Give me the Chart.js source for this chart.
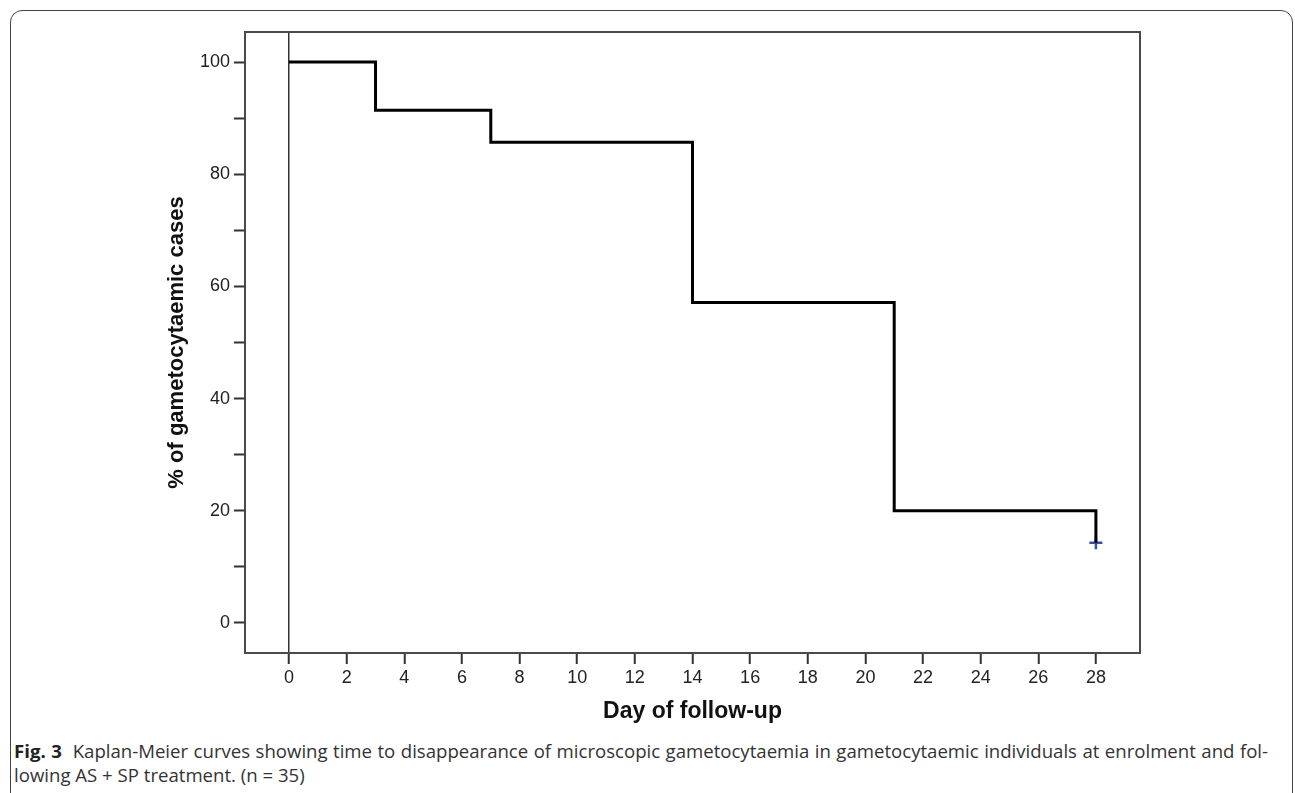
<!DOCTYPE html>
<html>
<head>
<meta charset="utf-8">
<script src="https://cdn.jsdelivr.net/npm/chart.js@4"></script>
<style>
  body { margin: 0; background: #fff; width: 1295px; height: 793px; overflow: hidden; position: relative; }
  #frame {
    position: absolute; left: 10px; top: 10px; width: 1281px; height: 900px;
    border: 1.5px solid #444; border-radius: 12px;
  }
  #km { position: absolute; left: 0; top: 0; }
  #caption {
    position: absolute; left: 14px; top: 739px; width: 1254px;
    font-family: "Open Sans", "Noto Sans", sans-serif; font-size: 18.6px; line-height: 24px; color: #333;
  }
  #caption .l1 { text-align: justify; text-align-last: justify; white-space: nowrap; }
  #caption b { color: #222; }
</style>
</head>
<body>
<div id="frame"></div>
<canvas id="km" width="1295" height="730"></canvas>
<div id="caption">
  <div class="l1"><b>Fig. 3</b>&nbsp; Kaplan-Meier curves showing time to disappearance of microscopic gametocytaemia in gametocytaemic individuals at enrolment and fol-</div>
  <div>lowing AS + SP treatment. (n = 35)</div>
</div>
<script>
// 生存曲線のデータ（日数と割合）
const days = [0, 3, 7, 14, 21, 28];
const survival = [100, 91.43, 85.71, 57.14, 20, 14.29];
// 打ち切り
const censoredDays = [28];
const censoredValues = [14.29];
// 目盛り
const xTickValues = [0, 2, 4, 6, 8, 10, 12, 14, 16, 18, 20, 22, 24, 26, 28];
const yTickValues = [0, 10, 20, 30, 40, 50, 60, 70, 80, 90, 100];
const yLabelValues = [0, 20, 40, 60, 80, 100];

const tickFont = { family: 'Arial, "Liberation Sans", sans-serif', size: 18 };
const xTitleFont = { family: 'Arial, "Liberation Sans", sans-serif', size: 23, weight: "bold" };
const yTitleFont = { family: 'Arial, "Liberation Sans", sans-serif', size: 22, weight: "bold" };

// 枠線を描くプラグイン
const plotBox = {
  id: "plotBox",
  beforeDatasetsDraw(chart) {
    const { ctx, chartArea: a } = chart;
    ctx.save();
    ctx.strokeStyle = "#4a4a4a";
    ctx.lineWidth = 2;
    ctx.strokeRect(a.left, a.top, a.right - a.left, a.bottom - a.top);
    ctx.restore();
  },
};

new Chart(document.getElementById("km"), {
  type: "line",
  data: {
    datasets: [
      {
        data: days.map((d, i) => ({ x: d, y: survival[i] })),
        stepped: "before",
        borderColor: "#000",
        borderWidth: 3,
        pointRadius: 0,
        fill: false,
      },
      {
        data: censoredDays.map((d, i) => ({ x: d, y: censoredValues[i] })),
        showLine: false,
        pointStyle: "cross",
        pointRadius: 6.5,
        borderColor: "#3b4ea0",
        borderWidth: 2.5,
      },
    ],
  },
  options: {
    responsive: false,
    animation: false,
    layout: { padding: { left: 164, top: 32, right: 155, bottom: 5 } },
    plugins: { legend: { display: false }, tooltip: { enabled: false } },
    scales: {
      x: {
        type: "linear",
        min: -1.53,
        max: 29.53,
        afterBuildTicks: (s) => { s.ticks = xTickValues.map((v) => ({ value: v })); },
        afterFit: (s) => { s.height = 72; },
        border: { display: false },
        grid: {
          drawOnChartArea: true,
          color: (c) => (c.tick && c.tick.value === 0 ? "#333" : "transparent"),
          lineWidth: 1.5,
          tickColor: "#333",
          tickLength: 11,
          tickWidth: 2,
        },
        ticks: { font: tickFont, color: "#222", padding: 3, maxRotation: 0, autoSkip: false },
        title: { display: true, text: "Day of follow-up", font: xTitleFont, color: "#111", padding: 0 },
      },
      y: {
        min: -5.36,
        max: 105.36,
        afterBuildTicks: (s) => { s.ticks = yTickValues.map((v) => ({ value: v })); },
        afterFit: (s) => { s.width = 81; },
        border: { display: false },
        grid: { drawOnChartArea: false, tickColor: "#333", tickLength: 11, tickWidth: 2 },
        ticks: {
          font: tickFont,
          color: "#222",
          padding: 4,
          autoSkip: false,
          callback: (v) => (yLabelValues.includes(v) ? v : ""),
        },
        title: { display: true, text: "% of gametocytaemic cases", font: yTitleFont, color: "#111", padding: 0 },
      },
    },
  },
  plugins: [plotBox],
});
</script>
</body>
</html>
